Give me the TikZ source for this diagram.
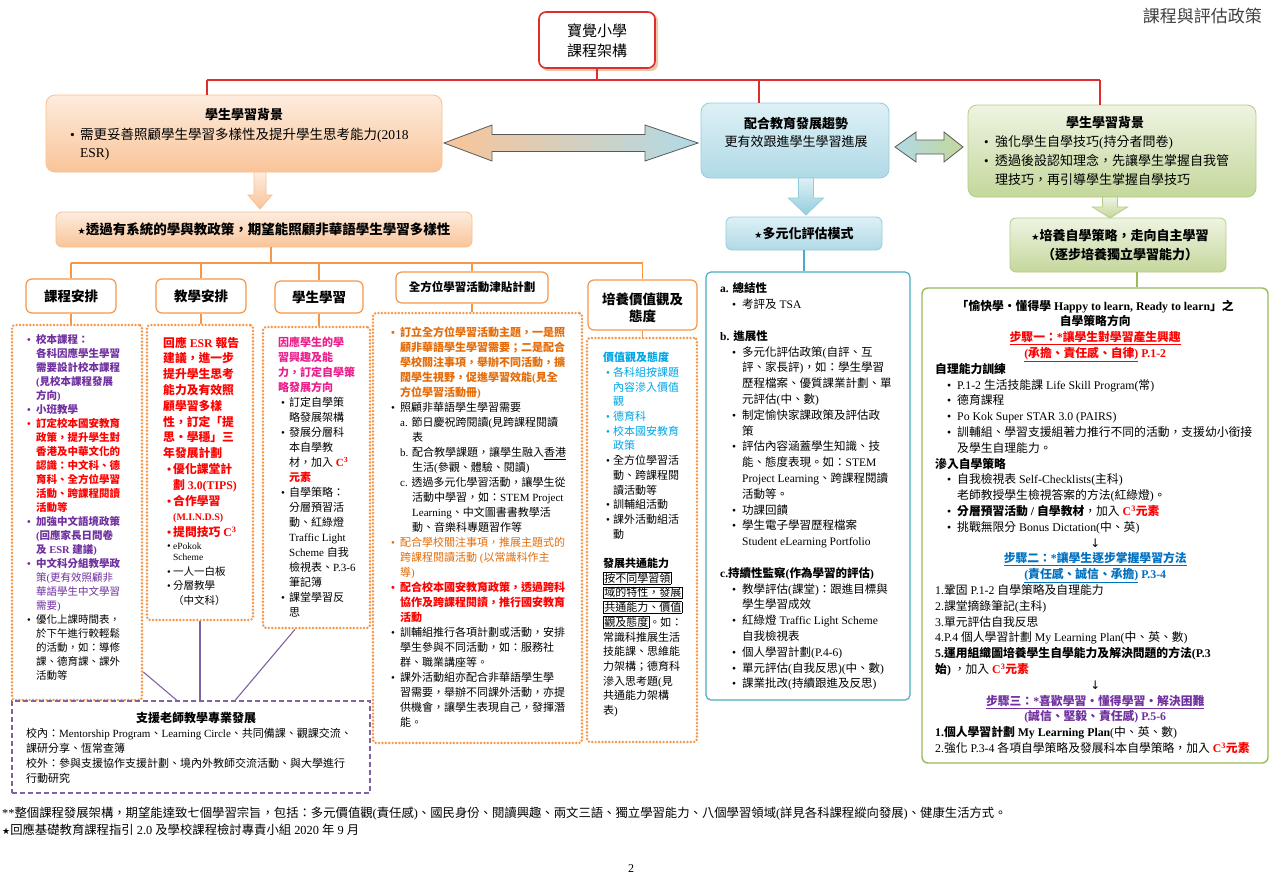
\documentclass[tikz,border=0pt]{standalone}
\usepackage{fontspec}
\setmainfont{Liberation Serif}
\newfontfamily\cjkf{Noto Sans CJK TC}
\newfontfamily\symf{DejaVu Sans}
\XeTeXinterchartokenstate=1
\chardef\CJKcls=201
\count255="2E80
\loop\XeTeXcharclass\count255=\CJKcls\relax
\ifnum\count255<"9FFF \advance\count255 by 1 \repeat
\count255="FF00
\loop\XeTeXcharclass\count255=\CJKcls\relax
\ifnum\count255<"FFEF \advance\count255 by 1 \repeat
\XeTeXinterchartoks 0 \CJKcls = {\cjkf}
\XeTeXinterchartoks 4095 \CJKcls = {\cjkf}
\XeTeXinterchartoks \CJKcls 0 = {\rmfamily}
\XeTeXinterchartoks \CJKcls 4095 = {\rmfamily}
\newcommand\fsz[2]{\fontsize{#1}{#2}\selectfont}
\newcommand\BI[2]{\hspace*{#1}\makebox[#2][l]{•}}
\newcommand\IN[1]{\hspace*{#1}}
\newcommand\Cthree{C\textsuperscript{3}}
\newcommand\mydown{{\symf ↓}}
\newcommand\mystar{{\symf\fontsize{9}{9}\selectfont ★}}
\definecolor{cRed}{RGB}{222,45,45}
\definecolor{cTan}{RGB}{232,200,170}
\definecolor{cOra}{RGB}{247,150,70}
\definecolor{cPur}{RGB}{128,100,162}
\definecolor{cBlu}{RGB}{75,172,198}
\definecolor{cGrn}{RGB}{155,187,89}
\definecolor{cPeachT}{RGB}{253,236,222}
\definecolor{cPeachB}{RGB}{249,196,152}
\definecolor{cPeachD}{RGB}{250,192,144}
\definecolor{cBlueT}{RGB}{222,240,246}
\definecolor{cBlueB}{RGB}{176,218,230}
\definecolor{cBlueD}{RGB}{147,205,221}
\definecolor{cGrnT}{RGB}{238,244,226}
\definecolor{cGrnB}{RGB}{196,215,155}
\definecolor{cGrnD}{RGB}{180,204,130}
\definecolor{tPur}{RGB}{112,48,160}
\definecolor{tRed}{RGB}{255,0,0}
\definecolor{tOra}{RGB}{228,108,10}
\definecolor{tBlu}{RGB}{0,112,192}
\definecolor{tCyan}{RGB}{0,166,230}
\definecolor{tPink}{RGB}{236,30,140}
\begin{document}
\begin{tikzpicture}[x=1pt,y=-1pt,
  txt/.style={inner sep=0pt, anchor=north west, align=left},
  redline/.style={draw=cRed, line width=1.1pt},
  oline/.style={draw=cOra, line width=1.1pt},
  pline/.style={draw=cPur, line width=1.1pt},
  bline/.style={draw=cBlu, line width=1.1pt},
  gline/.style={draw=cGrn, line width=1.1pt},
  hdr/.style={draw=cOra, line width=1.2pt, fill=white, rounded corners=6pt, inner sep=0pt},
  dotbox/.style={draw=cOra, line width=2.7pt, dash pattern=on 0pt off 3.4pt, line cap=round, rounded corners=3pt, inner sep=0pt},
  peachbox/.style={top color=cPeachT, bottom color=cPeachB, draw=cPeachD, line width=0.8pt, rounded corners=9pt, inner sep=0pt},
  bluebox/.style={top color=cBlueT, bottom color=cBlueB, draw=cBlueD, line width=0.8pt, rounded corners=9pt, inner sep=0pt},
  greenbox/.style={top color=cGrnT, bottom color=cGrnB, draw=cGrnD, line width=0.8pt, rounded corners=9pt, inner sep=0pt},
  blockarrow/.style={draw=black!65, line width=0.8pt}
]
\fill[white] (0,0) rectangle (1280,879);
\useasboundingbox (0,0) rectangle (1280,879);

% ---------- title ----------
\node[anchor=east, inner sep=0pt, font=\fsz{17}{20}, text=black!75] (title) at (1262,16) {課程與評估政策};

% ---------- top box ----------
\fill[cTan, rounded corners=7pt] (541,14) rectangle (658,71);
\node[draw=cRed, line width=1.6pt, fill=white, rounded corners=7pt, minimum width=116pt, minimum height=56pt, inner sep=0pt] (top) at (597,40) {};
\node[font=\fsz{15}{20}, align=center, inner sep=0pt] (toptxt) at (597,41) {寶覺小學\\課程架構};

% ---------- second row boxes ----------
\node[peachbox, minimum width=396pt, minimum height=77pt] (leftbox) at (244,133.5) {};
\node[bluebox, minimum width=188pt, minimum height=75pt] (midbox) at (795,140.5) {};
\node[greenbox, minimum width=288pt, minimum height=92pt] (rightbox) at (1112,151) {};

\node[font=\bfseries\fsz{13}{18}, inner sep=0pt] (lbt) at (244,115) {學生學習背景};
\node[txt, font=\fsz{13.5}{18}] (lbtx) at (70,127.8) {\BI{0pt}{10pt}需更妥善照顧學生學習多樣性及提升學生思考能力(2018\\\IN{10pt}ESR)};
\node[font=\fsz{13}{18}, align=center, inner sep=0pt] (mbt) at (796,132) {\bfseries 配合教育發展趨勢\\更有效跟進學生學習進展};
\node[font=\bfseries\fsz{13}{18}, inner sep=0pt] (rbt) at (1105,123) {學生學習背景};
\node[txt, font=\fsz{13}{19}] (rbtx) at (984,135) {\BI{0pt}{11pt}強化學生自學技巧(持分者問卷)\\\BI{0pt}{11pt}透過後設認知理念，先讓學生掌握自我管\\\IN{11pt}理技巧，再引導學生掌握自學技巧};

% block arrows
\path[blockarrow, left color=cPeachB, right color=cBlueB] (444,143) -- (492,125) -- (492,134.5) -- (645,134.5) -- (645,125) -- (698,143) -- (645,161) -- (645,151.5) -- (492,151.5) -- (492,161) -- cycle;
\path[blockarrow, left color=cBlueB, right color=cGrnB] (895,147) -- (916,132) -- (916,140) -- (944,140) -- (944,132) -- (963,147) -- (944,162) -- (944,154) -- (916,154) -- (916,162) -- cycle;
\path[top color=cPeachT, bottom color=cPeachB, draw=cPeachD, line width=0.8pt] (254,172) -- (266,172) -- (266,195) -- (272,195) -- (260,209) -- (248,195) -- (254,195) -- cycle;
\path[top color=cBlueT, bottom color=cBlueD, draw=cBlueD, line width=0.8pt] (798.5,178) -- (813.5,178) -- (813.5,198) -- (823.5,198) -- (806,215) -- (788.5,198) -- (798.5,198) -- cycle;
\path[top color=cGrnT, bottom color=cGrnB, draw=cGrnD, line width=0.8pt] (1102.5,197) -- (1117.5,197) -- (1117.5,207) -- (1127.5,207) -- (1110,218) -- (1092.5,207) -- (1102.5,207) -- cycle;

% third row boxes
\node[peachbox, rounded corners=6pt, minimum width=416pt, minimum height=35pt] (tobox) at (264,229.5) {};
\node[font=\bfseries\fsz{13.5}{16}, inner sep=0pt] (totx) at (264,229.5) {\mystar 透過有系統的學與教政策，期望能照顧非華語學生學習多樣性};
\node[bluebox, rounded corners=6pt, minimum width=156pt, minimum height=33pt] (multibox) at (804,233.5) {};
\node[font=\bfseries\fsz{13}{16}, inner sep=0pt] (multx) at (804,234) {\mystar 多元化評估模式};
\node[greenbox, rounded corners=6pt, minimum width=216pt, minimum height=54pt] (cultbox) at (1118,245) {};
\node[font=\bfseries\fsz{13}{19}, align=center, inner sep=0pt] (cultx) at (1120,245) {\mystar 培養自學策略，走向自主學習\\（逐步培養獨立學習能力）};

% ---------- headers ----------
\node[hdr, minimum width=90pt, minimum height=34pt] (h1) at (71,296) {};
\node[font=\bfseries\fsz{13.5}{16}, inner sep=0pt] (h1t) at (71,296) {課程安排};
\node[hdr, minimum width=90pt, minimum height=34pt] (h2) at (201,296) {};
\node[font=\bfseries\fsz{13.5}{16}, inner sep=0pt] (h2t) at (201,296) {教學安排};
\node[hdr, minimum width=88pt, minimum height=32pt] (h3) at (319,297) {};
\node[font=\bfseries\fsz{13.5}{16}, inner sep=0pt] (h3t) at (319,297) {學生學習};
\node[hdr, minimum width=152pt, minimum height=31pt] (h4) at (472,287.5) {};
\node[font=\bfseries\fsz{11.5}{14}, inner sep=0pt] (h4t) at (472,287.5) {全方位學習活動津貼計劃};
\node[hdr, minimum width=109pt, minimum height=50pt] (h5) at (642.5,305) {};
\node[font=\bfseries\fsz{13.5}{17}, align=center, inner sep=0pt] (h5t) at (642.5,308) {培養價值觀及\\態度};

% ---------- dotted boxes ----------
\node[dotbox, minimum width=130pt, minimum height=375pt] (dA) at (77,512.5) {};
\node[dotbox, minimum width=106pt, minimum height=295pt] (dB) at (200,472.5) {};
\node[dotbox, minimum width=107pt, minimum height=301pt] (dC) at (316.5,477.5) {};
\node[dotbox, minimum width=209pt, minimum height=430pt] (dD) at (477.5,528) {};
\node[dotbox, minimum width=110pt, minimum height=404pt] (dE) at (642,540) {};

\node[draw=cBlu, line width=1.2pt, rounded corners=5pt, minimum width=204pt, minimum height=428pt, inner sep=0pt] (assess) at (808,486) {};
\node[draw=cGrn, line width=1.4pt, rounded corners=6pt, minimum width=346pt, minimum height=475pt, inner sep=0pt] (rbig) at (1095,525.5) {};
\node[draw=cPur, line width=1.1pt, dash pattern=on 5pt off 3pt, minimum width=358pt, minimum height=92pt, inner sep=0pt] (support) at (191,747) {};

% ---------- connectors ----------
\coordinate (rL) at (207,80);
\coordinate (rM) at (759,80);
\coordinate (rR) at (1100,80);
\draw[redline] (top.south) -- (top.south |- rL);
\draw[redline] (rL) -- (rR);
\draw[redline] (rL) -- (rL |- leftbox.north);
\draw[redline] (rM) -- (rM |- midbox.north);
\draw[redline] (rR) -- (rR |- rightbox.north);

\coordinate (oT) at (271,263);
\coordinate (oL) at (71,263);
\coordinate (oR) at (642.5,263);
\draw[oline] (oT |- tobox.south) -- (oT);
\draw[oline] (oL) -- (oR);
\draw[oline] (h1.north |- oL) -- (h1.north);
\draw[oline] (h2.north |- oL) -- (h2.north);
\draw[oline] (h3.north |- oL) -- (h3.north);
\draw[oline] (h4.north |- oL) -- (h4.north);
\draw[oline] (h5.north |- oL) -- (h5.north);
\draw[oline] (h1.south) -- (h1.south |- dA.north);
\draw[oline] (h2.south) -- (h2.south |- dB.north);
\draw[oline] (h3.south) -- (h3.south |- dC.north);
\draw[oline] (h4.south) -- (h4.south |- dD.north);
\draw[oline] (h5.south) -- (h5.south |- dE.north);

\draw[bline] (multibox.south) -- (multibox.south |- assess.north);
\coordinate (gx) at (1137,0);
\draw[gline] (gx |- cultbox.south) -- (gx |- rbig.north);

\coordinate (pA) at (177,672);
\coordinate (pC1) at (295,0);
\coordinate (pC2) at (235,0);
\draw[pline] (dA.east |- pA) -- (pA |- support.north);
\draw[pline] (dB.south) -- (dB.south |- support.north);
\draw[pline] (pC1 |- dC.south) -- (pC2 |- support.north);

% ---------- box A ----------
\node[txt, font=\fsz{10.5}{14}] (tA) at (27,334.2) {%
\color{tPur}\bfseries\BI{0pt}{9pt}校本課程：\\
\color{tPur}\bfseries\IN{9pt}各科因應學生學習\\
\color{tPur}\bfseries\IN{9pt}需要設計校本課程\\
\color{tPur}\bfseries\IN{9pt}(見校本課程發展\\
\color{tPur}\bfseries\IN{9pt}方向)\\
\color{tPur}\bfseries\BI{0pt}{9pt}小班教學\\
\color{tRed}\bfseries\BI{0pt}{9pt}訂定校本國安教育\\
\color{tRed}\bfseries\IN{9pt}政策，提升學生對\\
\color{tRed}\bfseries\IN{9pt}香港及中華文化的\\
\color{tRed}\bfseries\IN{9pt}認識：中文科、德\\
\color{tRed}\bfseries\IN{9pt}育科、全方位學習\\
\color{tRed}\bfseries\IN{9pt}活動、跨課程閱讀\\
\color{tRed}\bfseries\IN{9pt}活動等\\
\color{tPur}\bfseries\BI{0pt}{9pt}加強中文語境政策\\
\color{tPur}\bfseries\IN{9pt}(回應家長日問卷\\
\color{tPur}\bfseries\IN{9pt}及 ESR 建議)\\
\color{tPur}\bfseries\BI{0pt}{9pt}中文科分組教學政\\
\color{tPur}\IN{9pt}策(更有效照顧非\\
\color{tPur}\IN{9pt}華語學生中文學習\\
\color{tPur}\IN{9pt}需要)\\
\BI{0pt}{9pt}優化上課時間表，\\
\IN{9pt}於下午進行較輕鬆\\
\IN{9pt}的活動，如：導修\\
\IN{9pt}課、德育課、課外\\
\IN{9pt}活動等};

% ---------- box B ----------
\node[txt, font=\fsz{11.8}{15.8}] (tB) at (163,336.6) {%
\color{tRed}\bfseries 回應 ESR 報告\\
\color{tRed}\bfseries 建議，進一步\\
\color{tRed}\bfseries 提升學生思考\\
\color{tRed}\bfseries 能力及有效照\\
\color{tRed}\bfseries 顧學習多樣\\
\color{tRed}\bfseries 性，訂定「提\\
\color{tRed}\bfseries 思・學穩」三\\
\color{tRed}\bfseries 年發展計劃\\
\color{tRed}\bfseries\BI{4pt}{6pt}優化課堂計\\
\color{tRed}\bfseries\IN{10pt}劃 3.0(TIPS)\\
\color{tRed}\bfseries\BI{4pt}{6pt}合作學習\\
\color{tRed}\bfseries\IN{10pt}{\fsz{10}{15.8}(M.I.N.D.S)}\\
\color{tRed}\bfseries\BI{4pt}{6pt}提問技巧 \Cthree};
\node[txt, font=\fsz{10.5}{14.5}] (tB2) at (167,543) {%
\BI{0pt}{6pt}{\fsz{9.5}{14.5}ePokok}\\[-3.5pt]
\IN{6pt}{\fsz{9.5}{14.5}Scheme}\\
\BI{0pt}{6pt}一人一白板\\
\BI{0pt}{6pt}分層教學\\
\IN{6pt}（中文科）};

% ---------- box C ----------
\node[txt, font=\fsz{11}{15}] (tC) at (278,337) {%
\color{tPink}\bfseries 因應學生的學\\
\color{tPink}\bfseries 習興趣及能\\
\color{tPink}\bfseries 力，訂定自學策\\
\color{tPink}\bfseries 略發展方向\\
\BI{3pt}{8pt}訂定自學策\\
\IN{11pt}略發展架構\\
\BI{3pt}{8pt}發展分層科\\
\IN{11pt}本自學教\\
\IN{11pt}材，加入 {\color{tRed}\bfseries\Cthree}\\
\IN{11pt}{\color{tRed}\bfseries 元素}\\
\BI{3pt}{8pt}自學策略：\\
\IN{11pt}分層預習活\\
\IN{11pt}動、紅綠燈\\
\IN{11pt}Traffic Light\\
\IN{11pt}Scheme 自我\\
\IN{11pt}檢視表、P.3-6\\
\IN{11pt}筆記簿\\
\BI{3pt}{8pt}課堂學習反\\
\IN{11pt}思};

% ---------- box D ----------
\node[txt, font=\fsz{11}{15}] (tD) at (391,327) {%
\color{tOra}\bfseries\BI{0pt}{9pt}訂立全方位學習活動主題，一是照\\
\color{tOra}\bfseries\IN{9pt}顧非華語學生學習需要；二是配合\\
\color{tOra}\bfseries\IN{9pt}學校關注事項，舉辦不同活動，擴\\
\color{tOra}\bfseries\IN{9pt}闊學生視野，促進學習效能(見全\\
\color{tOra}\bfseries\IN{9pt}方位學習活動冊)\\
\BI{0pt}{9pt}照顧非華語學生學習需要\\
\IN{9pt}a. 節日慶祝跨閱讀(見跨課程閱讀\\
\IN{21pt}表\\
\IN{9pt}b. 配合教學課題，讓學生融入\underline{香港}\\
\IN{21pt}生活(參觀、體驗、閱讀)\\
\IN{9pt}c. 透過多元化學習活動，讓學生從\\
\IN{21pt}活動中學習，如：STEM Project\\
\IN{21pt}Learning、中文圖書書教學活\\
\IN{21pt}動、音樂科專題習作等\\
\color{tOra}\BI{0pt}{9pt}配合學校關注事項，推展主題式的\\
\color{tOra}\IN{9pt}跨課程閱讀活動 (以常識科作主\\
\color{tOra}\IN{9pt}導)\\
\color{tRed}\bfseries\BI{0pt}{9pt}配合校本國安教育政策，透過跨科\\
\color{tRed}\bfseries\IN{9pt}協作及跨課程閱讀，推行國安教育\\
\color{tRed}\bfseries\IN{9pt}活動\\
\BI{0pt}{9pt}訓輔組推行各項計劃或活動，安排\\
\IN{9pt}學生參與不同活動，如：服務社\\
\IN{9pt}群、職業講座等。\\
\BI{0pt}{9pt}課外活動組亦配合非華語學生學\\
\IN{9pt}習需要，舉辦不同課外活動，亦提\\
\IN{9pt}供機會，讓學生表現自己，發揮潛\\
\IN{9pt}能。};

% ---------- box E ----------
\setlength{\fboxsep}{0.6pt}\setlength{\fboxrule}{0.5pt}
\node[txt, font=\fsz{11}{14.7}] (tE) at (603,352) {%
\color{tCyan}\bfseries 價值觀及態度\\
\color{tCyan}\BI{3pt}{7pt}各科組按課題\\
\color{tCyan}\IN{10pt}內容滲入價值\\
\color{tCyan}\IN{10pt}觀\\
\color{tCyan}\BI{3pt}{7pt}德育科\\
\color{tCyan}\BI{3pt}{7pt}校本國安教育\\
\color{tCyan}\IN{10pt}政策\\
\BI{3pt}{7pt}全方位學習活\\
\IN{10pt}動、跨課程閱\\
\IN{10pt}讀活動等\\
\BI{3pt}{7pt}訓輔組活動\\
\BI{3pt}{7pt}課外活動組活\\
\IN{10pt}動\\[14.7pt]
\bfseries 發展共通能力\\
\fbox{按不同學習領}\\
\fbox{域的特性，發展}\\
\fbox{共通能力、價值}\\
\fbox{觀及態度}。如：\\
常識科推展生活\\
技能課、思維能\\
力架構；德育科\\
滲入思考題(見\\
共通能力架構\\
表)};

% ---------- assessment ----------
\node[txt, font=\fsz{11.5}{15.8}] (tAs) at (720,282.7) {%
\bfseries a. 總結性\\
\BI{12pt}{10pt}考評及 TSA\\[15.8pt]
\bfseries b. 進展性\\
\BI{12pt}{10pt}多元化評估政策(自評、互\\
\IN{22pt}評、家長評)，如：學生學習\\
\IN{22pt}歷程檔案、優質課業計劃、單\\
\IN{22pt}元評估(中、數)\\
\BI{12pt}{10pt}制定愉快家課政策及評估政\\
\IN{22pt}策\\
\BI{12pt}{10pt}評估內容涵蓋學生知識、技\\
\IN{22pt}能、態度表現。如：STEM\\
\IN{22pt}Project Learning、跨課程閱讀\\
\IN{22pt}活動等。\\
\BI{12pt}{10pt}功課回饋\\
\BI{12pt}{10pt}學生電子學習歷程檔案\\
\IN{22pt}Student eLearning Portfolio\\[15.8pt]
\bfseries c.持續性監察(作為學習的評估)\\
\BI{12pt}{10pt}教學評估(課堂)：跟進目標與\\
\IN{22pt}學生學習成效\\
\BI{12pt}{10pt}紅綠燈 Traffic Light Scheme\\
\IN{22pt}自我檢視表\\
\BI{12pt}{10pt}個人學習計劃(P.4-6)\\
\BI{12pt}{10pt}單元評估(自我反思)(中、數)\\
\BI{12pt}{10pt}課業批改(持續跟進及反思)};

% ---------- right big box ----------
\node[txt, font=\fsz{11.8}{15.8}] (tR) at (935,299.6) {%
\makebox[320pt][c]{\bfseries「愉快學・懂得學 Happy to learn, Ready to learn」之}\\
\makebox[320pt][c]{\bfseries 自學策略方向}\\
\makebox[320pt][c]{\bfseries\color{tRed}\underline{步驟一：*讓學生對學習產生興趣}}\\
\makebox[320pt][c]{\bfseries\color{tRed}\underline{(承擔、責任感、自律)} P.1-2}\\
\bfseries 自理能力訓練\\
\BI{12pt}{10pt}P.1-2 生活技能課 Life Skill Program(常)\\
\BI{12pt}{10pt}德育課程\\
\BI{12pt}{10pt}Po Kok Super STAR 3.0 (PAIRS)\\
\BI{12pt}{10pt}訓輔組、學習支援組著力推行不同的活動，支援幼小銜接\\
\IN{22pt}及學生自理能力。\\
\bfseries 滲入自學策略\\
\BI{12pt}{10pt}自我檢視表 Self-Checklists(主科)\\
\IN{22pt}老師教授學生檢視答案的方法(紅綠燈)。\\
\BI{12pt}{10pt}{\bfseries 分層預習活動 / 自學教材}，加入 {\bfseries\color{tRed}\Cthree 元素}\\
\BI{12pt}{10pt}挑戰無限分 Bonus Dictation(中、英)\\
\makebox[320pt][c]{\mydown}\\
\makebox[320pt][c]{\bfseries\color{tBlu}\underline{步驟二：*讓學生逐步掌握學習方法}}\\
\makebox[320pt][c]{\bfseries\color{tBlu}\underline{(責任感、誠信、承擔)} P.3-4}\\
1.鞏固 P.1-2 自學策略及自理能力\\
2.課堂摘錄筆記(主科)\\
3.單元評估自我反思\\
4.P.4 個人學習計劃 My Learning Plan(中、英、數)\\
\bfseries 5.運用組織圖培養學生自學能力及解決問題的方法(P.3\\
{\bfseries 始)} ，加入 {\bfseries\color{tRed}\Cthree 元素}\\
\makebox[320pt][c]{\mydown}\\
\makebox[320pt][c]{\bfseries\color{tPur}\underline{步驟三：*喜歡學習・懂得學習・解決困難}}\\
\makebox[320pt][c]{\bfseries\color{tPur}(誠信、堅毅、責任感) P.5-6}\\
{\bfseries 1.個人學習計劃 My Learning Plan}(中、英、數)\\
2.強化 P.3-4 各項自學策略及發展科本自學策略，加入 {\bfseries\color{tRed}\Cthree 元素}};

% ---------- support ----------
\node[font=\bfseries\fsz{12}{15}, inner sep=0pt] (supt) at (196,718) {支援老師教學專業發展};
\node[txt, font=\fsz{11}{15}] (suptx) at (26,728) {%
校內：Mentorship Program、Learning Circle、共同備課、觀課交流、\\
課研分享、恆常查簿\\
校外：參與支援協作支援計劃、境內外教師交流活動、與大學進行\\
行動研究};

% ---------- footnotes ----------
\node[txt, font=\fsz{12.35}{17}] (foot) at (2,806.5) {%
**整個課程發展架構，期望能達致七個學習宗旨，包括：多元價值觀(責任感)、國民身份、閱讀興趣、兩文三語、獨立學習能力、八個學習領域(詳見各科課程縱向發展)、健康生活方式。\\
\mystar 回應基礎教育課程指引 2.0 及學校課程檢討專責小組 2020 年 9 月};
\node[font=\fsz{12}{14}, inner sep=0pt] (pg) at (631,869) {2};
\end{tikzpicture}
\end{document}
